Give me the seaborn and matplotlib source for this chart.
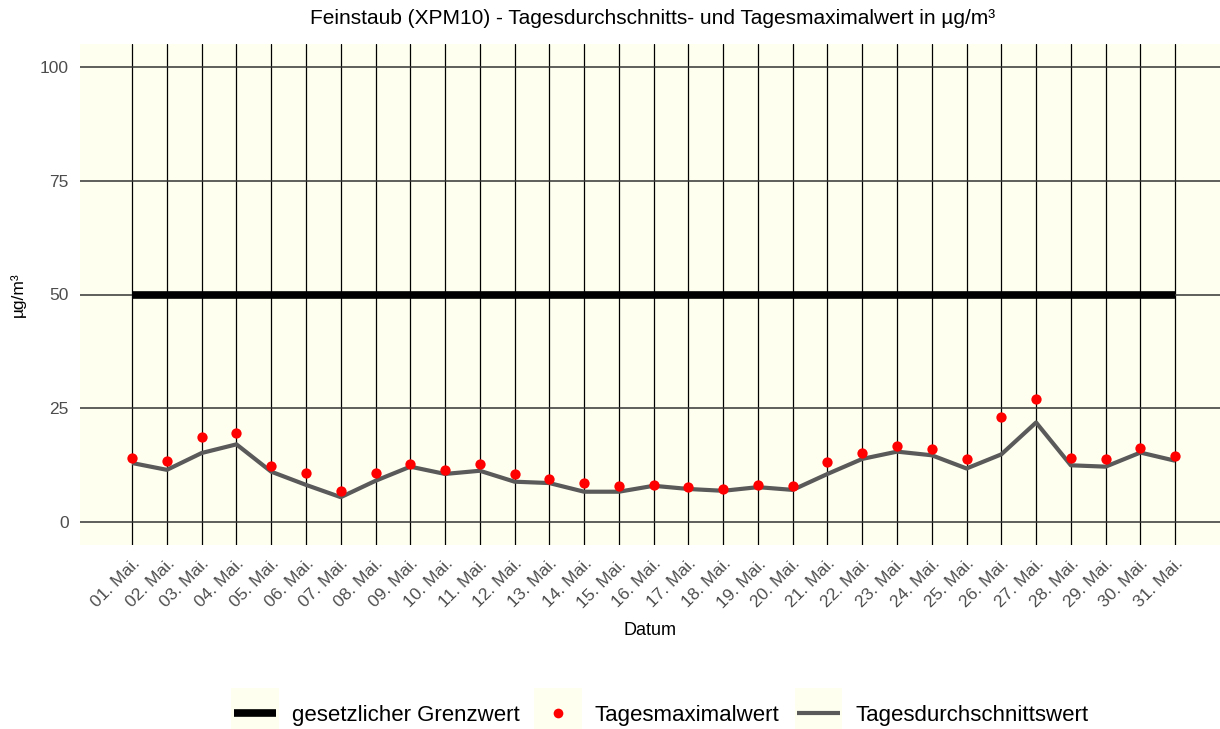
import pandas as pd
import numpy as np
import matplotlib
matplotlib.use("Agg")
import matplotlib.pyplot as plt
import seaborn as sns
from matplotlib.lines import Line2D
from matplotlib.patches import Rectangle
from matplotlib.legend_handler import HandlerLine2D

# Tageswerte Mai
tage = pd.date_range("2023-05-01", "2023-05-31", freq="D")
tage_labels = ["%02d. Mai." % t.day for t in tage]
tagesmax = [14.0, 13.4, 18.8, 19.7, 12.4, 10.9, 6.8, 10.9, 12.7, 11.4,
            12.7, 10.5, 9.6, 8.7, 8.0, 8.2, 7.7, 7.3, 8.2, 8.0,
            13.3, 15.1, 16.8, 16.0, 13.8, 23.0, 27.1, 14.0, 13.8, 16.4, 14.6]
tagesmittel = [13.0, 11.5, 15.2, 17.1, 11.1, 8.2, 5.5, 9.1, 12.2, 10.6,
               11.3, 8.9, 8.6, 6.7, 6.7, 8.0, 7.3, 6.9, 7.7, 7.1,
               10.6, 13.9, 15.5, 14.7, 11.8, 14.9, 21.9, 12.5, 12.2, 15.3, 13.5]
grenzwert = 50
y_ticks = [0, 25, 50, 75, 100]

df = pd.DataFrame({"Datum": tage, "max": tagesmax, "mittel": tagesmittel,
                   "grenz": grenzwert})

panel_bg = "#FFFFF0"
sns.set_style("white")
plt.rcParams["font.family"] = ["Liberation Sans", "DejaVu Sans"]

fig = plt.figure(figsize=(12.2, 7.29), dpi=100)
ax = fig.add_axes([80 / 1220, 1 - 545 / 729, 1140 / 1220, 501 / 729])
ax.set_facecolor(panel_bg)

sns.lineplot(data=df, x="Datum", y="grenz", color="black", lw=5.5, ax=ax, zorder=3,
             solid_capstyle="butt")
sns.lineplot(data=df, x="Datum", y="mittel", color="#5A5A5A", lw=3, ax=ax, zorder=4,
             solid_capstyle="butt")
sns.scatterplot(data=df, x="Datum", y="max", color="red", s=55, linewidth=0,
                ax=ax, zorder=5)

ax.set_xlim(tage[0] - pd.Timedelta(days=1.5), tage[-1] + pd.Timedelta(days=1.29))
ax.set_ylim(-5, 105)
ax.set_xticks(tage)
ax.set_xticklabels(tage_labels, rotation=45, ha="right", rotation_mode="anchor",
                   fontsize=12.5, color="#4D4D4D")
ax.set_yticks(y_ticks)
ax.set_yticklabels([str(v) for v in y_ticks], fontsize=12.5, color="#4D4D4D")
ax.tick_params(axis="both", length=5, width=1, color="#333333", pad=3)
ax.xaxis.grid(True, color="black", lw=0.9)
ax.yaxis.grid(True, color="#333333", lw=1.1)
ax.set_axisbelow(True)
for s in ax.spines.values():
    s.set_visible(False)

ax.set_xlabel("Datum", fontsize=13, labelpad=8, color="black")
ax.set_ylabel("µg/m³", fontsize=12.5, labelpad=10, color="black")
fig.text(653 / 1220, 1 - 19 / 729, "Feinstaub (XPM10) - Tagesdurchschnitts- und Tagesmaximalwert in µg/m³",
         ha="center", va="center", fontsize=15, color="black")


class KeyBG(HandlerLine2D):
    def create_artists(self, legend, orig_handle, xdescent, ydescent, width, height,
                       fontsize, trans):
        extra = 12
        bg = Rectangle((-xdescent - 2, -ydescent - extra), width + 4, height + 2 * extra,
                       facecolor=panel_bg, edgecolor="none", transform=trans)
        arts = super().create_artists(legend, orig_handle, xdescent, ydescent, width,
                                      height, fontsize, trans)
        return [bg] + arts


handles = [Line2D([], [], color="black", lw=5.5, solid_capstyle="butt"),
           Line2D([], [], color="red", lw=0, marker="o", markersize=7, markeredgewidth=0),
           Line2D([], [], color="#5A5A5A", lw=3, solid_capstyle="butt")]
labels = ["gesetzlicher Grenzwert", "Tagesmaximalwert", "Tagesdurchschnittswert"]
fig.legend(handles, labels, loc="center", bbox_to_anchor=(661 / 1220, 1 - 715 / 729),
           ncol=3, frameon=False, fontsize=16, handlelength=1.9, handletextpad=0.7,
           columnspacing=0.8, labelcolor="black", handler_map={Line2D: KeyBG()})

fig.savefig("out.png", dpi=100)
